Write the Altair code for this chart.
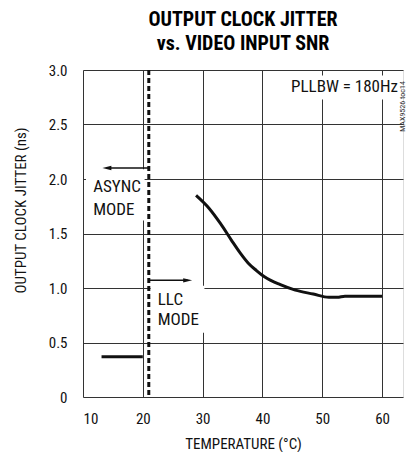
import altair as alt
import pandas as pd

FONT = "'Roboto Condensed', 'Liberation Sans Narrow', Roboto, sans-serif"

# Data
curve_x = [28.9, 31.1, 33.0, 34.8, 36.3, 37.6, 39.0, 40.4, 43.0, 45.5, 48.5, 51.1, 52.5, 53.8, 57.0, 60.0]
curve_y = [1.85, 1.73, 1.59, 1.44, 1.32, 1.23, 1.16, 1.10, 1.03, 0.98, 0.945, 0.915, 0.915, 0.925, 0.925, 0.925]
async_x = [13.1, 20.0]
async_y = [0.37, 0.37]
boundary_x = [21.0]

arrow_async = {"x": [20.9, 14.0], "y": [2.1, 2.1]}
arrow_llc = {"x": [21.1, 27.5], "y": [1.07, 1.07]}

labels_text = ["ASYNC", "MODE", "LLC", "MODE"]
labels_x = [11.7, 11.7, 22.5, 22.5]
labels_y = [1.93, 1.72, 0.89, 0.71]

mask_x1 = [10.5, 21.3, 44.5]
mask_x2 = [20.3, 30.3, 62.8]
mask_y1 = [1.62, 0.59, 2.73]
mask_y2 = [2.09, 1.02, 2.95]

xs = alt.Scale(domain=[10, 63.5], nice=False, zero=False, padding=0)
ys = alt.Scale(domain=[0, 3], nice=False, padding=0)

xax = alt.Axis(values=[10, 20, 30, 40, 50, 60], title="TEMPERATURE (°C)", grid=True,
               gridColor="#333", gridWidth=1, ticks=False, domain=False,
               labelFont=FONT, labelFontSize=15, labelColor="#111", labelPadding=14,
               titleFont=FONT, titleFontSize=15, titleFontWeight="normal", titleColor="#111",
               titleY=46, titleBaseline="middle")
yax = alt.Axis(values=[0, 0.5, 1, 1.5, 2, 2.5, 3], title="OUTPUT CLOCK JITTER (ns)", grid=True,
               gridColor="#333", gridWidth=1, ticks=False, domain=False,
               labelExpr="datum.value == 0 ? '0' : format(datum.value, '.1f')",
               labelFont=FONT, labelFontSize=15, labelColor="#111", labelPadding=16,
               titleFont=FONT, titleFontSize=15, titleFontWeight="normal", titleColor="#111",
               titleX=-63, titleY=140, titleAngle=-90, titleAlign="center", titleBaseline="middle")

curve_df = pd.DataFrame({"x": curve_x, "y": curve_y})
async_df = pd.DataFrame({"x": async_x, "y": async_y})
masks_df = pd.DataFrame({"x1": mask_x1, "x2": mask_x2, "y1": mask_y1, "y2": mask_y2})

masks = alt.Chart(masks_df).mark_rect(color="white").encode(
    x=alt.X("x1:Q", scale=xs, axis=xax), x2="x2:Q",
    y=alt.Y("y1:Q", scale=ys, axis=yax), y2="y2:Q")

curve = alt.Chart(curve_df).mark_line(color="#111", strokeWidth=3, interpolate="monotone").encode(
    x=alt.X("x:Q", scale=xs), y=alt.Y("y:Q", scale=ys))

async_line = alt.Chart(async_df).mark_line(color="#111", strokeWidth=3).encode(
    x=alt.X("x:Q", scale=xs), y=alt.Y("y:Q", scale=ys))

boundary = alt.Chart(pd.DataFrame({"x": boundary_x})).mark_rule(
    color="#111", strokeWidth=3, strokeDash=[5, 3]).encode(x=alt.X("x:Q", scale=xs))

a1 = pd.DataFrame(arrow_async)
a2 = pd.DataFrame(arrow_llc)
arrow_lines = alt.layer(
    alt.Chart(a1).mark_line(color="#111", strokeWidth=1.5).encode(x=alt.X("x:Q", scale=xs), y=alt.Y("y:Q", scale=ys)),
    alt.Chart(a2).mark_line(color="#111", strokeWidth=1.5).encode(x=alt.X("x:Q", scale=xs), y=alt.Y("y:Q", scale=ys)),
)
heads = alt.layer(
    alt.Chart(a1.tail(1)).mark_point(shape="M-1,0L1,-0.5L1,0.5Z", filled=True, color="#111", size=80, opacity=1,
                                     strokeWidth=0).encode(
        x=alt.X("x:Q", scale=xs), y=alt.Y("y:Q", scale=ys)),
    alt.Chart(a2.tail(1)).mark_point(shape="M1,0L-1,-0.5L-1,0.5Z", filled=True, color="#111", size=80, opacity=1,
                                     strokeWidth=0).encode(
        x=alt.X("x:Q", scale=xs), y=alt.Y("y:Q", scale=ys)),
)

labels = alt.Chart(pd.DataFrame({"t": labels_text, "x": labels_x, "y": labels_y})).mark_text(
    font=FONT, fontSize=17, align="left", baseline="middle", color="#111").encode(
    x=alt.X("x:Q", scale=xs), y=alt.Y("y:Q", scale=ys), text="t:N")

pll = alt.Chart(pd.DataFrame({"t": ["PLLBW = 180Hz"], "x": [63.0], "y": [2.84]})).mark_text(
    font=FONT, fontSize=17, align="right", baseline="middle", color="#111", dx=-2).encode(
    x=alt.X("x:Q", scale=xs), y=alt.Y("y:Q", scale=ys), text="t:N")

toc = alt.Chart(pd.DataFrame({"t": ["MAX9526 toc14"], "x": [63.5], "y": [2.62]})).mark_text(
    font=FONT, fontSize=8, angle=270, align="center", baseline="middle", color="#333", dx=5).encode(
    x=alt.X("x:Q", scale=xs), y=alt.Y("y:Q", scale=ys), text="t:N")

chart = alt.layer(masks, boundary, curve, async_line, arrow_lines, heads, labels, pll, toc).properties(
    width=320, height=327,
    autosize=alt.AutoSizeParams(type="none"),
    padding={"left": 75, "top": 62, "right": 9, "bottom": 55},
    title=alt.TitleParams(text=["OUTPUT CLOCK JITTER", "vs. VIDEO INPUT SNR"], font=FONT,
                          fontSize=20, fontWeight="bold", color="#000", anchor="middle",
                          lineHeight=24, offset=9),
).configure_view(stroke="#000", strokeWidth=3).configure(background="white")

chart.save("out.html", embed_options={"renderer": "svg", "actions": False})
